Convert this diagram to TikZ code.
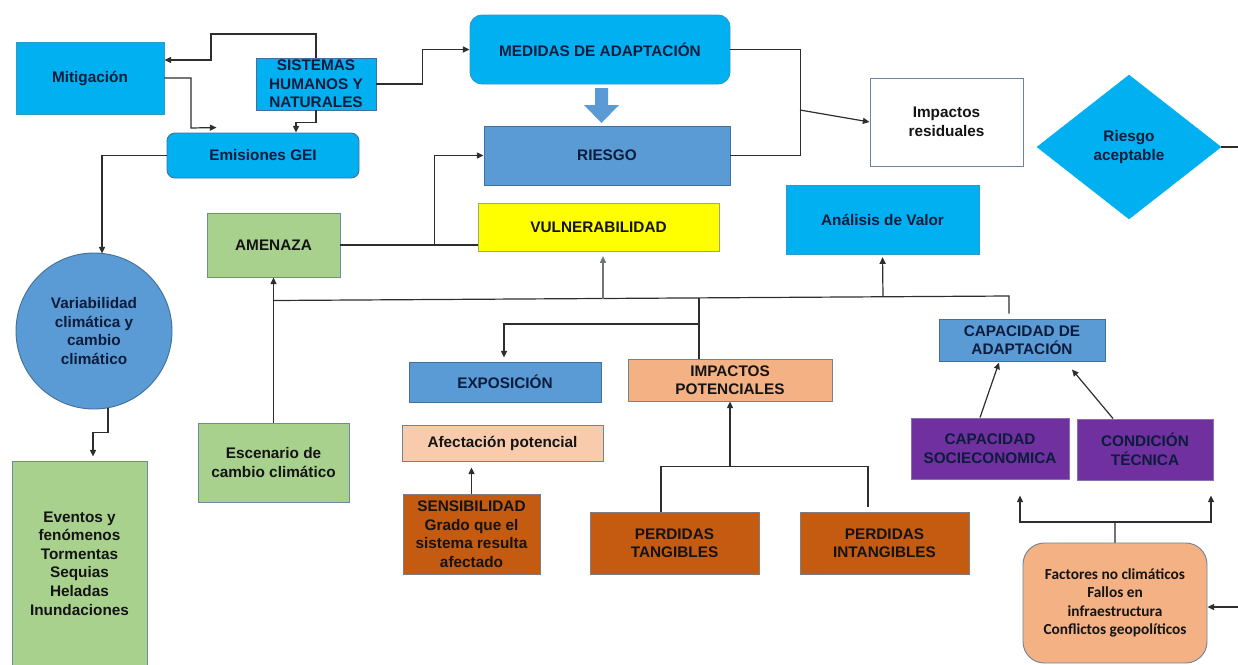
\documentclass[tikz,border=0pt]{standalone}
\usepackage{fontspec}
\setmainfont{Liberation Sans}
\newfontfamily\calfont{Carlito}
\usetikzlibrary{arrows.meta,shapes.geometric,calc}

\definecolor{cyanF}{HTML}{00B0F0}
\definecolor{cyanE}{HTML}{2C9ACB}
\definecolor{midB}{HTML}{5B9BD5}
\definecolor{midE}{HTML}{41719C}
\definecolor{greenF}{HTML}{A9D18E}
\definecolor{greenE}{HTML}{6E8A9E}
\definecolor{yellowF}{HTML}{FFFF00}
\definecolor{peachF}{HTML}{F4B183}
\definecolor{lpeachF}{HTML}{F8CBAD}
\definecolor{brownF}{HTML}{C55A11}
\definecolor{purpleF}{HTML}{7030A0}
\definecolor{purpleE}{HTML}{8A6FB0}
\definecolor{edgeC}{HTML}{6F849A}
\definecolor{navyT}{HTML}{0C1C3C}
\definecolor{darkT}{HTML}{141414}
\definecolor{lineC}{HTML}{2E2E2E}
\definecolor{greyL}{HTML}{6E7479}

\begin{document}
\begin{tikzpicture}[x=0.75pt,y=-0.75pt,
  every node/.style={font=\bfseries\fontsize{11.5}{13.9}\selectfont,
    align=center, inner sep=0pt, text=darkT},
  % rectangle given by its corners x1/y1/x2/y2 in pixel units
  rect/.style args={#1/#2/#3/#4}{rectangle,
    at={({(#1+#3)/2},{(#2+#4)/2})},
    minimum width={(#3-#1)*0.75pt}, minimum height={(#4-#2)*0.75pt}},
  base/.style={draw=edgeC, line width=0.7pt},
  cyanbox/.style={base, fill=cyanF, draw=cyanE, text=navyT},
  bluebox/.style={base, fill=midB, draw=midE, text=navyT},
  greenbox/.style={base, fill=greenF, draw=greenE},
  yellowbox/.style={base, fill=yellowF, draw=edgeC!70!yellow},
  peachbox/.style={base, fill=peachF, draw=edgeC},
  lpeachbox/.style={base, fill=lpeachF, draw=edgeC},
  brownbox/.style={base, fill=brownF, draw=edgeC!80!brownF},
  purplebox/.style={base, fill=purpleF, draw=purpleE, text=navyT},
  whitebox/.style={base, fill=white, draw=edgeC},
  conn/.style={draw=lineC, line width=0.9pt},
  arr/.style={conn, -{Triangle[length=5pt,width=4.5pt]}},
  garr/.style={draw=greyL, line width=0.9pt, -{Triangle[length=5pt,width=4.5pt]}},
]
\useasboundingbox (0,0) rectangle (1238,664);
\clip (0,0) rectangle (1238,664);

% ---- upper row ----
\node[cyanbox, rect=16/42/164/114] (mit) {Mitigación};
\node[cyanbox, draw=midE, rect=256/58/376/110] (sis) {SISTEMAS\\HUMANOS Y\\NATURALES};
\node[cyanbox, rounded corners=9pt, rect=470/15/730/84] (med) {MEDIDAS DE ADAPTACIÓN};
\node[cyanbox, rounded corners=6pt, draw=midE, rect=167/133/359/178] (em) {Emisiones GEI};
\node[bluebox, rect=484/126/730/185] (ri) {RIESGO};
\node[whitebox, rect=870/78/1023/166] (ir) {Impactos\\residuales};
\node[diamond, fill=cyanF, draw=cyanF, text=navyT,
      minimum width=138pt, minimum height=108pt] (ra) at (1129,147) {Riesgo\\aceptable};

% block arrow between adaptation measures and risk
\fill[midB] (595,88) -- (608,88) -- (608,105) -- (619,105) -- (601.5,123)
  -- (584,105) -- (595,105) -- cycle;

% ---- middle band ----
\node[cyanbox, rect=786/185/979/254] (an) {Análisis de Valor};
\node[greenbox, rect=207/213/340/277] (am) {AMENAZA};
\node[yellowbox, rect=478/203/719/251] (vul) {VULNERABILIDAD};
\node[circle, fill=midB, draw=midE, line width=0.7pt, text=navyT,
      minimum size=117pt] (circ) at (94,331) {Variabilidad\\climática y\\cambio\\climático};
\node[greenbox, rect=198/423/349/502] (esc) {Escenario de\\cambio climático};
\node[greenbox, rect=12/461/147/666] (ev)
  {Eventos y\\fenómenos\\Tormentas\\Sequias\\Heladas\\Inundaciones};

\node[bluebox, rect=409/362/601/402] (ex) {EXPOSICIÓN};
\node[peachbox, rect=628/359/832/401] (ip) {IMPACTOS\\POTENCIALES};
\node[lpeachbox, rect=402/425/603/461] (af) {Afectación potencial};
\node[brownbox, rect=403/494/540/574] (sen)
  {SENSIBILIDAD\\Grado que el\\sistema resulta\\afectado};
\node[brownbox, rect=590/512/759/574] (pt) {PERDIDAS\\TANGIBLES};
\node[brownbox, rect=800/512/969/574] (pi) {PERDIDAS\\INTANGIBLES};

\node[bluebox, rect=939/319/1105/361] (cap) {CAPACIDAD DE\\ADAPTACIÓN};
\node[purplebox, rect=911/418/1069/479] (soc) {CAPACIDAD\\SOCIECONOMICA};
\node[purplebox, rect=1077/419/1213/480] (con) {CONDICIÓN\\TÉCNICA};
\node[peachbox, rounded corners=16pt, rect=1023/543/1207/663,
      font=\calfont\bfseries\fontsize{11.5}{13.8}\selectfont] (fa)
  {Factores no climáticos\\Fallos en\\infraestructura\\Conflictos geopolíticos};

% ---- junction points ----
\coordinate (jM) at (800,110);
\coordinate (tL) at (273.5,300.5);
\coordinate (tR) at (1009,296);
\coordinate (jV) at (603,298.5);
\coordinate (jI) at (699,297.9);
\coordinate (jA) at (883,296.8);
\coordinate (jE) at (699,324);
\coordinate (jT) at (730,467);
\coordinate (jF) at (1115,522);
\coordinate (eF) at (1242,607);
\coordinate (eR) at (1242,147);

% ---- connectors, upper part ----
\draw[arr] (sis.north) |- (211,34) |- ($(mit.east)+(0,-18)$);
\draw[arr] (mit.east) -| (191,128) -- ($(em.north west)+(50,-5)$);
\draw[arr] (sis.south) |- ($(em.north)+(33,-10)$) -- ($(em.north)+(33,0)$);
\draw[arr] (sis.east) -| ($(med.west)+(-47,0)$) -- (med.west);
\draw[conn] (med.east) -| ($(ri.east)+(70,0)$) -- (ri.east);
\draw[arr] (jM) -- (ir.west);
\draw[conn] (ra.east) -- (eR);

\draw[arr] (em.west) -| ($(circ.north)+(8,1)$);
\draw[arr] ($(circ.south)+(14,-1)$) |- ($(ev.north)+(13.5,-28)$) -- ($(ev.north)+(13.5,-4)$);

% ---- threat, vulnerability and risk ----
\draw[conn] (am.east) -- (am.east -| vul.west);
\draw[arr] ($(am.east)+(94,0)$) |- (ri.west);
\draw[arr] (esc.north) -- (am.south);

% ---- trunk line ----
\draw[conn] (tL) -- (tR) -- ($(cap.north)+(-13,-5)$);
\draw[garr, shorten >=3.5pt] (jV) -- ($(vul.south)+(4.5,0)$);
\draw[arr, shorten >=2pt] (jA) -- (an.south);
\draw[conn] ($(ip.north)+(-31,0)$) -- (jI);
\draw[arr] (jE) -| ($(ex.north)+(-1,-4)$);

% ---- lower middle ----
\draw[arr, shorten >=4.5pt] (sen.north) -- (sen.north |- af.south);
\draw[conn] ($(pt.north)+(-13.5,0)$) |- ($(pi.north)+(-16.5,-45)$) -- ($(pi.north)+(-16.5,-5)$);
\draw[arr] (jT) -- (ip.south);

% ---- adaptive capacity ----
\draw[arr] ($(soc.north)+(-10,0)$) -- ($(cap.south)+(-23,1)$);
\draw[arr] ($(con.north)+(-32,0)$) -- ($(cap.south)+(50,8)$);
\draw[conn, draw=greyL] (fa.north) -- (jF);
\draw[arr] (jF) -| ($(soc.south)+(30,16)$);
\draw[arr] (jF) -| ($(con.south)+(66,15)$);
\draw[arr] (eF) -- ($(fa.east)+(0,4)$);
\end{tikzpicture}
\end{document}
